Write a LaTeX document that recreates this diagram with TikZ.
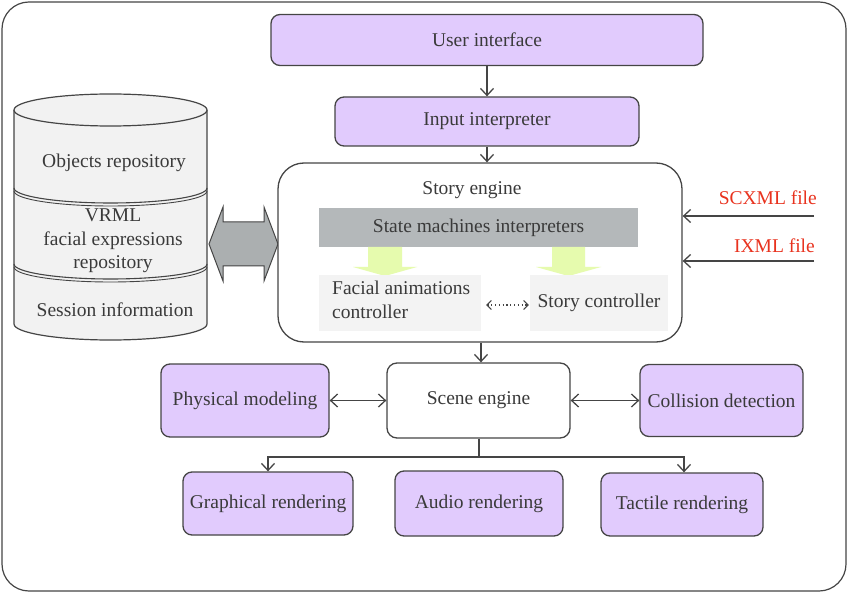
\documentclass[tikz,border=0pt]{standalone}
\usepackage{fontspec}
\setmainfont{Liberation Serif}
\usetikzlibrary{arrows.meta,calc}
\definecolor{txt}{HTML}{3A3A3A}
\definecolor{edge}{HTML}{454545}
\definecolor{lav}{HTML}{E1CBFD}
\definecolor{smigray}{HTML}{B4B8BA}
\definecolor{subbox}{HTML}{F3F3F3}
\definecolor{cylfill}{HTML}{F2F2F2}
\definecolor{bigarrow}{HTML}{ABAFB0}
\definecolor{greenarrow}{HTML}{E6FBAE}
\definecolor{redtxt}{HTML}{E8321E}
\tikzset{
  lbl/.style={text=txt,font=\fontsize{19.5}{23.5}\selectfont,inner sep=0pt},
  purplebox/.style={lbl,draw=edge,line width=1.3pt,fill=lav,rounded corners=9pt},
  whitebox/.style={lbl,draw=edge,line width=1.3pt,fill=white,rounded corners=10pt},
  barb/.tip={Straight Barb[length=7pt,width=13pt,line width=1.3pt]},
  smallbarb/.tip={Straight Barb[length=4.5pt,width=9pt,line width=1pt]},
  conn/.style={draw=edge,line width=1.3pt,-barb},
  biconn/.style={draw=edge,line width=1.3pt,barb-barb},
}
\begin{document}
\begin{tikzpicture}[x=1pt,y=-1pt]
\useasboundingbox (0,0) rectangle (850,593);
\draw[edge,line width=1.2pt,rounded corners=27pt] (2,2) rectangle (846,591);

% cylinder
\fill[cylfill] (14,110) -- (14,324) arc[start angle=180,end angle=0,x radius=96.5,y radius=16] -- (207,110) -- cycle;
\draw[edge,line width=1.2pt] (14,110) -- (14,324) arc[start angle=180,end angle=0,x radius=96.5,y radius=16] -- (207,110);
\draw[edge,line width=1.2pt,fill=cylfill] (110.5,110) ellipse[x radius=96.5,y radius=16];
\draw[edge,line width=1.1pt] (14,188) arc[start angle=180,end angle=0,x radius=96.5,y radius=15];
\draw[edge,line width=0.9pt] (14,191) arc[start angle=180,end angle=0,x radius=96.5,y radius=15];
\draw[edge,line width=1.1pt] (14,264) arc[start angle=180,end angle=0,x radius=96.5,y radius=15];
\draw[edge,line width=0.9pt] (14,267) arc[start angle=180,end angle=0,x radius=96.5,y radius=15];
\node[lbl] (objrep) at (114,163) {Objects repository};
\node[lbl,align=center] (vrml) at (113,241) {VRML\\facial expressions\\repository};
\node[lbl] (sess) at (115,310) {Session information};

% gray double arrow
\draw[edge,line width=1pt,fill=bigarrow] (209,244) -- (223,207) -- (223,222) -- (264,222) -- (264,207) -- (278,244) -- (264,281) -- (264,266) -- (223,266) -- (223,281) -- cycle;

% top boxes
\node[purplebox,minimum width=432pt,minimum height=51pt] (ui) at (487,40) {User interface};
\node[purplebox,minimum width=304pt,minimum height=49pt] (ii) at (487,121.5) {Input interpreter};

% story engine
\node[draw=edge,line width=1.3pt,fill=white,rounded corners=26pt,minimum width=404pt,minimum height=179pt,inner sep=0pt] (se) at (480,252.5) {};
\node[lbl] (setitle) at (472,190) {Story engine};
\node[lbl,fill=smigray,minimum width=319pt,minimum height=39pt] (smi) at (478.5,227.5) {State machines interpreters};
\fill[greenarrow] (368,247) -- (402,247) -- (402,267) -- (417,267) -- (385,276) -- (353,267) -- (368,267) -- cycle;
\fill[greenarrow] (552,247) -- (585,247) -- (585,267) -- (601,267) -- (568.5,276) -- (536,267) -- (552,267) -- cycle;
\node[fill=subbox,minimum width=162pt,minimum height=56pt,inner sep=0pt] (fac) at (400,303) {};
\node[lbl,align=left,anchor=west] (factxt) at (332,300) {Facial animations\\controller};
\node[lbl,fill=subbox,minimum width=138pt,minimum height=56pt] (sc) at (599,303) {Story controller};
\draw[edge,line width=1.1pt,dash pattern=on 1.2pt off 2.6pt,smallbarb-smallbarb,shorten <=5pt,shorten >=1pt] ($(fac.east)+(0,2)$) -- ($(sc.west)+(0,2)$);

% inputs
\node[lbl,text=redtxt,anchor=east] (scxml) at (817,198) {SCXML file};
\node[lbl,text=redtxt,anchor=east] (ixml) at (815,246) {IXML file};
\coordinate (scxmlend) at (814,216);
\coordinate (ixmlend) at (814,261);
\draw[conn] (scxmlend) -- (se.east |- scxmlend);
\draw[conn] (ixmlend) -- (se.east |- ixmlend);

% scene layer
\node[whitebox,minimum width=183pt,minimum height=75pt] (scene) at (478.5,400.5) {Scene engine};
\node[purplebox,minimum width=168pt,minimum height=73pt] (pm) at (245,400.5) {Physical modeling};
\node[purplebox,minimum width=163pt,minimum height=72pt] (cd) at (721.5,400.5) {Collision detection};
\node[purplebox,minimum width=170pt,minimum height=63pt] (gr) at (268,503.5) {Graphical rendering};
\node[purplebox,minimum width=168pt,minimum height=65pt] (ar) at (479,503.5) {Audio rendering};
\node[purplebox,minimum width=162pt,minimum height=63pt] (tr) at (682,504.5) {Tactile rendering};

% connectors
\draw[conn] (ui.south) -- (ii.north);
\draw[conn] (ii.south) -- (ii.south |- se.north);
\draw[conn] ($(se.south)+(1,0)$) -- ($(se.south |- scene.north)+(1,0)$);
\draw[biconn] (pm.east) -- (scene.west);
\draw[biconn] (scene.east) -- (cd.west);
\coordinate (branch) at (479,457);
\draw[draw=edge,line width=1.3pt] (scene.south -| branch) -- (branch);
\draw[conn] (branch) -| (gr.north);
\draw[conn] (branch) -| ($(tr.north)+(2,0)$);
\end{tikzpicture}
\end{document}
